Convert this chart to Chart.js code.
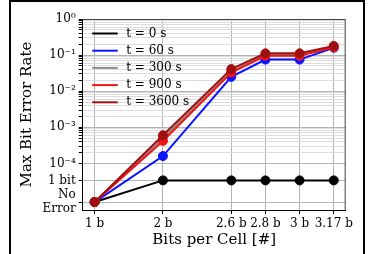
<!DOCTYPE html>
<html>
<head>
<meta charset="utf-8">
<script src="https://cdn.jsdelivr.net/npm/chart.js@4.4.1/dist/chart.umd.min.js"></script>
<style>
  html, body { margin: 0; padding: 0; background: #fff; }
  #wrap { position: relative; width: 383px; height: 254px; }
  #frame { position: absolute; left: 9px; top: 0px; width: 352px; height: 260px;
           border: 2px solid #000; border-bottom: none; pointer-events: none; }
</style>
</head>
<body>
<div id="wrap">
  <canvas id="c" width="383" height="254"></canvas>
  <div id="frame"></div>
</div>
<script>
// x positions are number of levels per cell, labels are bits per cell
const levels = [2, 4, 6, 7, 8, 9];
const bitLabels = ['1 b', '2 b', '2.6 b', '2.8 b', '3 b', '3.17 b'];

// special values on the y axis
const NO_ERROR = Math.pow(10, -5.07);
const ONE_BIT = Math.pow(10, -4.47);

const seriesNames = ['t = 0 s', 't = 60 s', 't = 300 s', 't = 900 s', 't = 3600 s'];
const seriesColors = ['#000000', '#0a14ff', '#8c8c8c', '#f01414', '#a01010'];
const t0 = [NO_ERROR, ONE_BIT, ONE_BIT, ONE_BIT, ONE_BIT, ONE_BIT];
const t60 = [NO_ERROR, 1.6e-4, 2.5e-2, 7.5e-2, 7.5e-2, 1.6e-1];
const t300 = [NO_ERROR, 5.0e-4, 3.5e-2, 1.0e-1, 1.0e-1, 1.7e-1];
const t900 = [NO_ERROR, 4.2e-4, 3.3e-2, 9.6e-2, 9.6e-2, 1.65e-1];
const t3600 = [NO_ERROR, 6.0e-4, 4.1e-2, 1.12e-1, 1.12e-1, 1.8e-1];
const allSeries = [t0, t60, t300, t900, t3600];

// y ticks
const yMajorValues = [1, 1e-1, 1e-2, 1e-3, 1e-4, ONE_BIT, NO_ERROR];
const yMajorLabels = ['10⁰', '10⁻¹', '10⁻²', '10⁻³', '10⁻⁴', '1 bit', ['No', 'Error']];

const SERIF = "'DejaVu Serif', 'Liberation Serif', serif";

const yTicks = [];
yMajorValues.forEach((v, i) => yTicks.push({ value: v, major: true, name: yMajorLabels[i] }));
for (let k = -4; k <= -1; k++) {
  for (let m = 2; m <= 9; m++) {
    yTicks.push({ value: m * Math.pow(10, k), major: false, name: '' });
  }
}

const datasets = allSeries.map((s, i) => ({
  label: seriesNames[i],
  data: levels.map((x, j) => ({ x: x, y: s[j] })),
  borderColor: seriesColors[i],
  backgroundColor: seriesColors[i],
  borderWidth: 2,
  pointRadius: 4.5,
  pointBorderWidth: 1,
  pointBorderColor: seriesColors[i],
  order: allSeries.length - 1 - i, // later series drawn on top
}));

// legend drawn inside the plot, top left, like the original
const insideLegend = {
  id: 'insideLegend',
  afterDatasetsDraw(chart) {
    const ctx = chart.ctx;
    const a = chart.chartArea;
    ctx.save();
    ctx.font = '12px ' + SERIF;
    ctx.textBaseline = 'middle';
    chart.data.datasets.forEach((ds, i) => {
      const y = a.top + 14.5 + i * 17.2;
      ctx.strokeStyle = ds.borderColor;
      ctx.lineWidth = 2;
      ctx.beginPath();
      ctx.moveTo(a.left + 9.5, y);
      ctx.lineTo(a.left + 35, y);
      ctx.stroke();
      ctx.fillStyle = '#000';
      ctx.fillText(ds.label, a.left + 43.5, y);
    });
    // top and right spines
    ctx.strokeStyle = '#444';
    ctx.lineWidth = 1;
    ctx.beginPath();
    ctx.moveTo(a.left, a.top + 0.5);
    ctx.lineTo(a.right - 0.5, a.top + 0.5);
    ctx.lineTo(a.right - 0.5, a.bottom);
    ctx.stroke();
    ctx.restore();
  }
};

new Chart(document.getElementById('c').getContext('2d'), {
  type: 'line',
  data: { datasets: datasets },
  plugins: [insideLegend],
  options: {
    responsive: false,
    animation: false,
    devicePixelRatio: 1,
    layout: { padding: { top: 19, right: 37.3, left: 0, bottom: 0 } },
    plugins: { legend: { display: false }, tooltip: { enabled: false } },
    elements: { line: { tension: 0 } },
    scales: {
      x: {
        type: 'linear',
        min: 1.65,
        max: 9.35,
        afterBuildTicks: (scale) => { scale.ticks = levels.map(v => ({ value: v })); },
        afterFit: (scale) => { scale.height = 44; },
        ticks: {
          autoSkip: false,
          maxRotation: 0,
          padding: 3,
          color: '#000',
          font: { family: SERIF, size: 12 },
          callback: (v, i) => bitLabels[i],
        },
        grid: { color: '#b4b4b4', lineWidth: 1, tickLength: 4, tickColor: '#000' },
        border: { color: '#000', width: 1 },
        title: {
          display: true,
          text: 'Bits per Cell [#]',
          color: '#000',
          font: { family: SERIF, size: 15 },
          padding: { top: 5, bottom: 5 },
        },
      },
      y: {
        type: 'logarithmic',
        min: Math.pow(10, -5.29),
        max: 1,
        bounds: 'data',
        afterBuildTicks: (scale) => { scale.ticks = yTicks.map(t => Object.assign({}, t)); },
        afterFit: (scale) => { scale.width = 82.7; },
        ticks: {
          autoSkip: false,
          padding: 3,
          color: '#000',
          font: { family: SERIF, size: 12 },
          callback: (v, i, ticks) => ticks[i].name,
        },
        grid: {
          lineWidth: 1,
          tickLength: 4,
          tickColor: '#000',
          color: (c) => (c.tick && c.tick.major ? '#b4b4b4' : '#dcdcdc'),
        },
        border: { color: '#000', width: 1 },
        title: {
          display: true,
          text: 'Max Bit Error Rate',
          color: '#000',
          font: { family: SERIF, size: 15 },
          padding: { top: 18, bottom: 4 },
        },
      },
    },
  },
});
</script>
</body>
</html>
